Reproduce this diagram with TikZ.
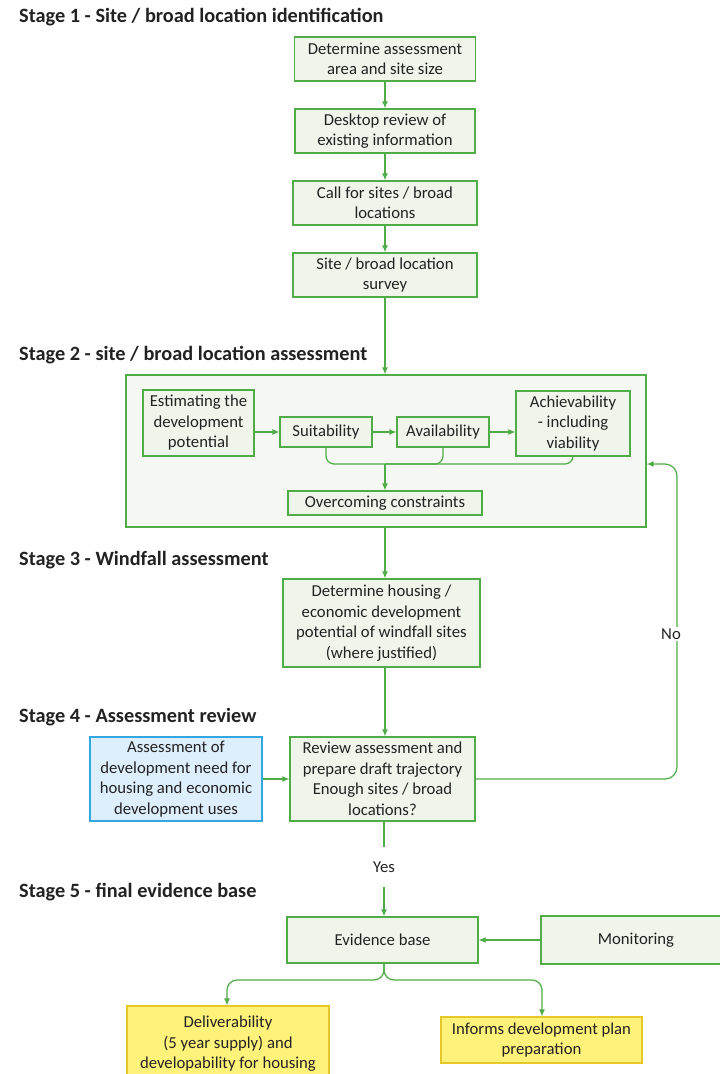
\documentclass[tikz,border=0pt]{standalone}
\usepackage{fontspec}
\setmainfont{Carlito}
\usetikzlibrary{arrows.meta}
\definecolor{gline}{RGB}{80,172,70}
\definecolor{gfill}{RGB}{239,245,235}
\definecolor{bigfill}{RGB}{245,248,243}
\definecolor{bfill}{RGB}{221,239,252}
\definecolor{bline}{RGB}{51,168,224}
\definecolor{yfill}{RGB}{255,242,122}
\definecolor{yline}{RGB}{232,200,40}
\definecolor{txt}{RGB}{34,34,34}
\begin{document}
\begin{tikzpicture}[x=1pt,y=-1pt,
  every node/.style={text=txt,font=\fontsize{16.7}{20.5}\selectfont},
  gbox/.style={draw=gline,fill=gfill,line width=1.2pt,align=center,inner sep=0pt},
  bbox/.style={draw=bline,fill=bfill,line width=1.2pt,align=center,inner sep=0pt},
  ybox/.style={draw=yline,fill=yfill,line width=1.2pt,align=center,inner sep=0pt},
  head/.style={anchor=west,inner sep=0pt,font=\fontsize{20.3}{23}\selectfont\bfseries},
  conn/.style={draw=gline,line width=1.2pt},
  arr/.style={conn,-{Latex[length=7pt,width=6pt]}}
]
\useasboundingbox[fill=white] (0,0) rectangle (720,1074);

% headings
\node[head] (h1) at (19,17) {Stage 1 - Site / broad location identification};
\node[head] (h2) at (19,355) {Stage 2 - site / broad location assessment};
\node[head] (h3) at (19,560) {Stage 3 - Windfall assessment};
\node[head] (h4) at (19,717) {Stage 4 - Assessment review};
\node[head] (h5) at (19,892) {Stage 5 - final evidence base};

% stage 1
\node[gbox,minimum width=181pt,minimum height=44pt] (b1) at (385,59) {Determine assessment\\area and site size};
\node[gbox,minimum width=180pt,minimum height=44pt] (b2) at (385,131) {Desktop review of\\existing information};
\node[gbox,minimum width=184pt,minimum height=44pt] (b3) at (385,203) {Call for sites / broad\\locations};
\node[gbox,minimum width=184pt,minimum height=44pt] (b4) at (385,275) {Site / broad location\\survey};

% stage 2
\node[draw=gline,fill=bigfill,line width=1.2pt,minimum width=520pt,minimum height=152pt,inner sep=0pt] (big) at (386,451) {};
\node[gbox,minimum width=111pt,minimum height=66pt] (est) at (198.5,423) {Estimating the\\development\\potential};
\node[gbox,minimum width=92pt,minimum height=30pt] (suit) at (326,432) {Suitability};
\node[gbox,minimum width=92pt,minimum height=30pt] (avail) at (443,432) {Availability};
\node[gbox,minimum width=114pt,minimum height=65pt] (ach) at (573,423.5) {Achievability\\- including\\viability};
\node[gbox,minimum width=194pt,minimum height=24pt] (over) at (385,503) {Overcoming constraints};

% stage 3
\node[gbox,minimum width=197pt,minimum height=88pt] (wind) at (381.5,623) {Determine housing /\\economic development\\potential of windfall sites\\(where justified)};

% stage 4
\node[bbox,minimum width=172pt,minimum height=84pt] (need) at (176,779) {Assessment of\\development need for\\housing and economic\\development uses};
\node[gbox,minimum width=185pt,minimum height=84pt] (rev) at (382.5,779) {Review assessment and\\prepare draft trajectory\\Enough sites / broad\\locations?};
\node[inner sep=0pt,minimum height=40pt] (yes) at (384,867) {Yes};

% stage 5
\node[gbox,minimum width=191pt,minimum height=46pt] (evid) at (382.5,940) {Evidence base};
\node[gbox,minimum width=190pt,minimum height=48pt] (mon) at (636,940) {Monitoring};
\node[ybox,minimum width=202pt,minimum height=76pt] (deliv) at (228,1044) {Deliverability\\(5 year supply) and\\developability for housing};
\node[ybox,minimum width=201pt,minimum height=46pt] (inf) at (541.5,1040) {Informs development plan\\preparation};

% connectors stage 1
\draw[arr] (b1) -- (b2);
\draw[arr] (b2) -- (b3);
\draw[arr] (b3) -- (b4);
\draw[arr] (b4.south) -- (big.north -| b4.south);

% stage 2 inner
\draw[arr] (est.east |- suit.west) -- (suit.west);
\draw[arr] (suit) -- (avail);
\draw[arr] (avail.east) -- (ach.west |- avail.east);
\coordinate (jn) at (385,464);
\coordinate (jl) at (326,464);
\coordinate (jr) at (573,464);
\draw[conn,rounded corners=8pt] (suit.south) |- (jr) -- (ach.south);
\draw[conn,rounded corners=8pt] (avail.south) |- (jn);
\draw[arr] (jn) -- (over.north);

% stage 2 -> 3 -> 4
\draw[arr] (big.south -| over.south) -- (wind.north -| over.south);
\draw[arr] (wind.south -| over.south) -- (rev.north -| over.south);
\draw[arr] (need.east) -- (rev.west);

% feedback No
\coordinate (fr) at (677,779);
\coordinate (ft) at (677,464);
\draw[arr,rounded corners=12pt] (rev.east) -- (fr) -- (ft) -- (big.east |- ft);
\node[fill=white,inner sep=2pt] (no) at (671,634) {No};

% yes
\draw[conn] (rev.south -| yes) -- (yes.north);
\draw[arr] (yes.south) -- (evid.north -| yes);

% stage 5
\draw[arr] (mon.west) -- (evid.east);
\coordinate (sl) at (227,980);
\coordinate (sr) at (542,980);
\draw[arr,rounded corners=10pt] (evid.south -| yes) |- (sl) -- (deliv.north -| sl);
\draw[arr,rounded corners=10pt] (evid.south -| yes) |- (sr) -- (inf.north -| sr);
\end{tikzpicture}
\end{document}
